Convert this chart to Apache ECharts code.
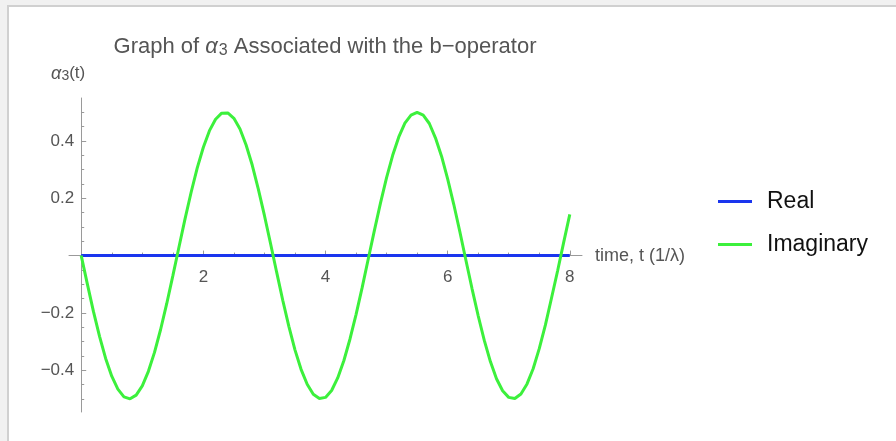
<!DOCTYPE html>
<html>
<head>
<meta charset="utf-8">
<script src="https://cdn.jsdelivr.net/npm/echarts@6/dist/echarts.min.js"></script>
<style>
  html, body { margin: 0; padding: 0; background: #fff; }
  #chart { width: 896px; height: 441px; }
</style>
</head>
<body>
<div id="chart"></div>
<script>
// time samples t (units of 1/λ)
const tValues = [
  0.0, 0.1, 0.2, 0.3, 0.4, 0.5, 0.6, 0.7, 0.8, 0.9,
  1.0, 1.1, 1.2, 1.3, 1.4, 1.5, 1.6, 1.7, 1.8, 1.9,
  2.0, 2.1, 2.2, 2.3, 2.4, 2.5, 2.6, 2.7, 2.8, 2.9,
  3.0, 3.1, 3.2, 3.3, 3.4, 3.5, 3.6, 3.7, 3.8, 3.9,
  4.0, 4.1, 4.2, 4.3, 4.4, 4.5, 4.6, 4.7, 4.8, 4.9,
  5.0, 5.1, 5.2, 5.3, 5.4, 5.5, 5.6, 5.7, 5.8, 5.9,
  6.0, 6.1, 6.2, 6.3, 6.4, 6.5, 6.6, 6.7, 6.8, 6.9,
  7.0, 7.1, 7.2, 7.3, 7.4, 7.5, 7.6, 7.7, 7.8, 7.9,
  8.0
];

// imaginary part of α3(t)
const imagValues = [
   0.000, -0.099, -0.195, -0.282, -0.359, -0.421, -0.466, -0.493, -0.500, -0.487,
  -0.455, -0.404, -0.338, -0.258, -0.168, -0.071,  0.029,  0.128,  0.221,  0.306,
   0.378,  0.436,  0.476,  0.497,  0.498,  0.479,  0.442,  0.386,  0.316,  0.232,
   0.140,  0.042, -0.058, -0.156, -0.247, -0.329, -0.397, -0.449, -0.484, -0.499,
  -0.495, -0.471, -0.427, -0.367, -0.292, -0.206, -0.112, -0.012,  0.087,  0.183,
   0.272,  0.350,  0.414,  0.462,  0.490,  0.500,  0.490,  0.461,  0.411,  0.347,
   0.268,  0.179,  0.083, -0.017, -0.116, -0.210, -0.296, -0.370, -0.430, -0.472,
  -0.495, -0.499, -0.483, -0.448, -0.395, -0.325, -0.243, -0.149, -0.054,  0.046,
   0.144
];

// real part of α3(t): zero over the whole interval
const realT = [0, 8];
const realValues = [0, 0];

// axis ticks and labels
const xMajorTicks = [2, 4, 6, 8];
const xMinorTicks = [0.5, 1, 1.5, 2, 2.5, 3, 3.5, 4, 4.5, 5, 5.5, 6, 6.5, 7, 7.5, 8];
const yMajorTicks = [-0.4, -0.2, 0.2, 0.4];
const yMinorTicks = [-0.5, -0.45, -0.4, -0.35, -0.3, -0.25, -0.2, -0.15, -0.1, -0.05,
                      0.05, 0.1, 0.15, 0.2, 0.25, 0.3, 0.35, 0.4, 0.45, 0.5];

const seriesNames = ['Real', 'Imaginary'];

// plot ranges
const X_MIN = -0.2, X_MAX = 8.2;
const Y_MIN = -0.546, Y_MAX = 0.55;

const FONT = "'Liberation Sans', Arial, Helvetica, sans-serif";
const AXIS_GRAY = '#9a9a9a';
const LABEL_GRAY = '#555555';

// plot area
const GRID = { left: 69, top: 98, width: 513, height: 314 };
// the axes cross at the origin: shift them in from the grid edges
const xAxisShift = -GRID.height * (0 - Y_MIN) / (Y_MAX - Y_MIN);
const yAxisShift = -GRID.width * (0 - X_MIN) / (X_MAX - X_MIN);

const zip = (xs, ys) => xs.map((x, i) => [x, ys[i]]);
const fmtNum = v => {
  const s = String(Math.round(Math.abs(v) * 100) / 100);
  return v < 0 ? '\u2212' + s : s;
};

const chart = echarts.init(document.getElementById('chart'), null, { renderer: 'canvas' });

chart.setOption({
  animation: false,
  backgroundColor: '#ffffff',
  textStyle: { fontFamily: FONT },
  title: {
    text: 'Graph of {a|α}{s|3} Associated with the b\u2212operator',
    left: 320,
    top: 30,
    textAlign: 'center',
    textStyle: {
      fontFamily: FONT,
      fontSize: 22,
      fontWeight: 'normal',
      color: LABEL_GRAY,
      rich: {
        a: { fontFamily: FONT, fontSize: 22, fontStyle: 'italic', color: LABEL_GRAY },
        s: { fontFamily: FONT, fontSize: 16, color: LABEL_GRAY, padding: [8, 0, 0, 1] }
      }
    }
  },
  legend: {
    orient: 'vertical',
    left: 718,
    top: 190,
    padding: 0,
    icon: 'rect',
    itemWidth: 34,
    itemHeight: 3,
    itemGap: 20,
    textStyle: { fontFamily: FONT, fontSize: 23, color: '#111', lineHeight: 22, padding: [0, 0, 0, 10] },
    data: seriesNames
  },
  graphic: [
    { type: 'rect', shape: { x: 0, y: 0, width: 896, height: 5 }, style: { fill: '#f1f1f1' }, silent: true },
    { type: 'rect', shape: { x: 0, y: 0, width: 7, height: 441 }, style: { fill: '#f1f1f1' }, silent: true },
    { type: 'rect', shape: { x: 7, y: 5, width: 889, height: 2 }, style: { fill: '#d0d0d0' }, silent: true },
    { type: 'rect', shape: { x: 7, y: 5, width: 2, height: 436 }, style: { fill: '#d0d0d0' }, silent: true }
  ],
  grid: Object.assign({ containLabel: false }, GRID),
  xAxis: [
    {
      type: 'value',
      min: X_MIN,
      max: X_MAX,
      position: 'bottom',
      offset: xAxisShift,
      axisLine: { show: true, onZero: false, lineStyle: { color: AXIS_GRAY, width: 1 } },
      axisTick: { show: true, inside: true, length: 3, customValues: xMinorTicks, lineStyle: { color: AXIS_GRAY } },
      axisLabel: {
        show: true, customValues: xMajorTicks, margin: 13,
        fontFamily: FONT, fontSize: 17, color: LABEL_GRAY, formatter: fmtNum
      },
      splitLine: { show: false },
      name: 'time, t (1/λ)',
      nameLocation: 'end',
      nameGap: 13,
      nameTextStyle: { fontFamily: FONT, fontSize: 18, color: LABEL_GRAY, align: 'left', verticalAlign: 'middle' }
    },
    {
      type: 'value',
      min: X_MIN,
      max: X_MAX,
      position: 'bottom',
      offset: xAxisShift,
      axisLine: { show: false, onZero: false },
      axisTick: { show: true, inside: true, length: 5, customValues: xMajorTicks, lineStyle: { color: AXIS_GRAY } },
      axisLabel: { show: false },
      splitLine: { show: false }
    }
  ],
  yAxis: [
    {
      type: 'value',
      min: Y_MIN,
      max: Y_MAX,
      position: 'left',
      offset: yAxisShift,
      axisLine: { show: true, onZero: false, lineStyle: { color: AXIS_GRAY, width: 1 } },
      axisTick: { show: true, inside: true, length: 3, customValues: yMinorTicks, lineStyle: { color: AXIS_GRAY } },
      axisLabel: {
        show: true, customValues: yMajorTicks, margin: 7,
        fontFamily: FONT, fontSize: 17, color: LABEL_GRAY, formatter: fmtNum
      },
      splitLine: { show: false },
      name: '{a|α}{s|3}(t)',
      nameLocation: 'end',
      nameGap: 15,
      nameTextStyle: {
        fontFamily: FONT, fontSize: 17, color: LABEL_GRAY, align: 'right', padding: [0, -4, 0, 0],
        rich: {
          a: { fontFamily: FONT, fontSize: 18, fontStyle: 'italic', color: LABEL_GRAY },
          s: { fontFamily: FONT, fontSize: 14, color: LABEL_GRAY, padding: [5, 0, 0, 0] }
        }
      }
    },
    {
      type: 'value',
      min: Y_MIN,
      max: Y_MAX,
      position: 'left',
      offset: yAxisShift,
      axisLine: { show: false, onZero: false },
      axisTick: { show: true, inside: true, length: 5, customValues: yMajorTicks, lineStyle: { color: AXIS_GRAY } },
      axisLabel: { show: false },
      splitLine: { show: false }
    }
  ],
  series: [
    {
      name: seriesNames[0],
      type: 'line',
      xAxisIndex: 0,
      yAxisIndex: 0,
      data: zip(realT, realValues),
      showSymbol: false,
      symbol: 'none',
      color: '#1a35ee',
      lineStyle: { color: '#1a35ee', width: 3 },
      z: 3
    },
    {
      name: seriesNames[1],
      type: 'line',
      xAxisIndex: 0,
      yAxisIndex: 0,
      data: zip(tValues, imagValues),
      showSymbol: false,
      symbol: 'none',
      smooth: false,
      color: '#3cf03c',
      lineStyle: { color: '#3cf03c', width: 3 },
      z: 4
    }
  ]
});
</script>
</body>
</html>
